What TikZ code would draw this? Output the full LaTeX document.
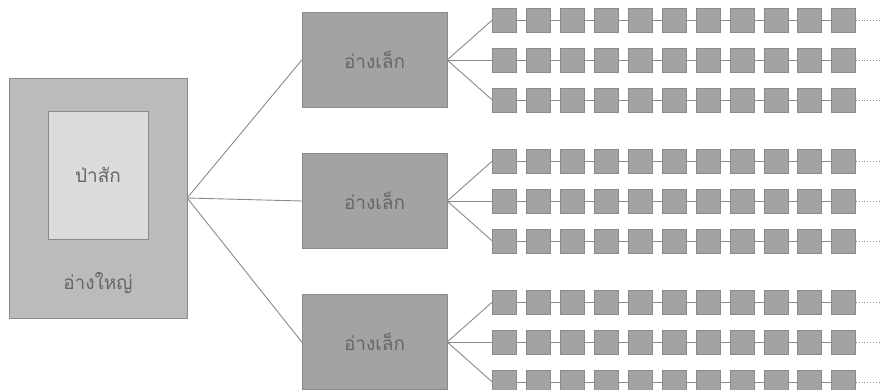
\documentclass[tikz,border=0pt]{standalone}
\usepackage{fontspec}
\newfontfamily\thaifont[Script=Thai]{Loma}
\usetikzlibrary{positioning}

\definecolor{bigfill}{HTML}{BBBBBB}
\definecolor{innerfill}{HTML}{DCDCDC}
\definecolor{smallfill}{HTML}{A3A3A3}
\definecolor{edgegray}{HTML}{8A8A8A}
\definecolor{textgray}{HTML}{666666}

\begin{document}
\begin{tikzpicture}[
    x=1pt, y=-1pt,
    bigbasin/.style={rectangle, draw=edgegray, fill=bigfill, minimum width=178pt, minimum height=240pt, inner sep=0pt},
    forest/.style={rectangle, draw=edgegray, fill=innerfill, minimum width=100pt, minimum height=128pt, inner sep=0pt},
    basin/.style={rectangle, draw=edgegray, fill=smallfill, minimum width=145pt, minimum height=95pt, inner sep=0pt},
    cell/.style={rectangle, draw=edgegray, fill=smallfill, minimum size=24pt, inner sep=0pt},
    label/.style={text=textgray, font=\thaifont\fontsize{19}{22}\selectfont},
    link/.style={draw=edgegray, line width=0.9pt},
    more/.style={draw=edgegray, line width=0.9pt, dotted}
]
    \useasboundingbox (0,0) rectangle (880,390);

    % Big basin with the forest inside
    \node[bigbasin] (big) at (98,198) {};
    \node[forest] (teak) at (98,175) {};
    \node[label] at (teak.center) {ป่าสัก};
    \node[label] (bigname) at (98,283) {อ่างใหญ่};

    % Small basins and their chains of cells
    \foreach \g/\gy in {1/60,2/201,3/342} {
        \node[basin] (small-\g) at (374.5,\gy) {};
        \node[label] at (small-\g.center) {อ่างเล็ก};
        \draw[link] (big.east) -- (small-\g.west);
        \foreach \r/\dy in {1/-40,2/0,3/40} {
            \foreach \i in {1,...,11}
                \node[cell] (c-\g-\r-\i) at ({504.5+33.9*(\i-1)},{\gy+\dy}) {};
            \draw[link] (small-\g.east) -- (c-\g-\r-1.west);
            \foreach \i [evaluate=\i as \j using int(\i+1)] in {1,...,10}
                \draw[link] (c-\g-\r-\i.east) -- (c-\g-\r-\j.west);
            \coordinate (end-\g-\r) at (880,{\gy+\dy});
            \draw[more] (c-\g-\r-11.east) -- (end-\g-\r);
        }
    }
\end{tikzpicture}
\end{document}
